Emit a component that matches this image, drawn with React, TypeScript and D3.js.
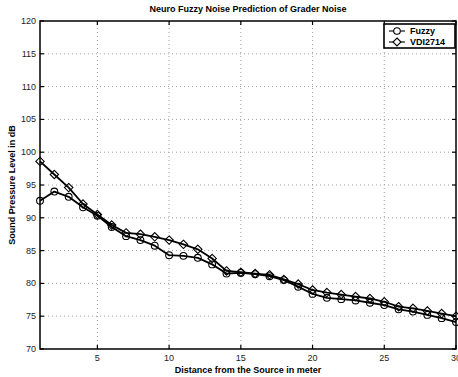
import React from "react";
import * as d3 from "d3";

const distances = [1, 2, 3, 4, 5, 6, 7, 8, 9, 10, 11, 12, 13, 14, 15, 16, 17, 18, 19, 20, 21, 22, 23, 24, 25, 26, 27, 28, 29, 30];
const fuzzy = [92.6, 94.0, 93.2, 91.6, 90.3, 88.6, 87.2, 86.6, 85.75, 84.3, 84.2, 83.9, 82.9, 81.5, 81.6, 81.4, 81.1, 80.5, 79.5, 78.4, 77.8, 77.6, 77.4, 77.05, 76.7, 76.05, 75.7, 75.2, 74.7, 74.1];
const vdi = [98.6, 96.6, 94.6, 92.1, 90.5, 88.9, 87.7, 87.5, 87.1, 86.6, 85.95, 85.2, 83.8, 81.9, 81.7, 81.5, 81.3, 80.6, 79.9, 79.0, 78.6, 78.3, 78.0, 77.7, 77.2, 76.45, 76.2, 75.8, 75.4, 75.0];
const xTicks = [5, 10, 15, 20, 25, 30];
const yTicks = [70, 75, 80, 85, 90, 95, 100, 105, 110, 115, 120];
const seriesNames = ["Fuzzy", "VDI2714"];

const W = 458, H = 377;
const margin = { left: 40, right: 2, top: 21, bottom: 28 };
const font = "'Liberation Sans', Arial, Helvetica, sans-serif";

function diamond(cx: number, cy: number, r: number) {
  return `M${cx},${cy - r}L${cx + r},${cy}L${cx},${cy + r}L${cx - r},${cy}Z`;
}

export default function App() {
  const x = d3.scaleLinear().domain([1, 30]).range([margin.left, W - margin.right]);
  const y = d3.scaleLinear().domain([70, 120]).range([H - margin.bottom, margin.top]);
  const [x0, x1] = x.range();
  const [y0, y1] = y.range();

  const line = d3.line<number>()
    .x((d, i) => x(distances[i]))
    .y(d => y(d));

  const tl = 4;

  return (
    <svg width={W} height={H} style={{ position: "absolute", left: 0, top: 0, background: "#fff" }} fontFamily={font}>
      {/* grid */}
      {xTicks.filter(t => t < 30).map(t => (
        <line key={"gx" + t} x1={x(t)} x2={x(t)} y1={y0} y2={y1} stroke="#888" strokeWidth={0.8} strokeDasharray="1,3" />
      ))}
      {yTicks.filter(t => t > 70 && t < 120).map(t => (
        <line key={"gy" + t} x1={x0} x2={x1} y1={y(t)} y2={y(t)} stroke="#888" strokeWidth={0.8} strokeDasharray="1,3" />
      ))}

      {/* series */}
      <path d={line(vdi) || ""} fill="none" stroke="#000" strokeWidth={1.8} strokeLinejoin="round" />
      <path d={line(fuzzy) || ""} fill="none" stroke="#000" strokeWidth={1.8} strokeLinejoin="round" />
      {fuzzy.map((v, i) => (
        <circle key={"c" + i} cx={x(distances[i])} cy={y(v)} r={3.4} fill="none" stroke="#000" strokeWidth={1.1} />
      ))}
      {vdi.map((v, i) => (
        <path key={"d" + i} d={diamond(x(distances[i]), y(v), 4.2)} fill="none" stroke="#000" strokeWidth={1.1} />
      ))}

      {/* box */}
      <rect x={x0} y={y1} width={x1 - x0} height={y0 - y1} fill="none" stroke="#000" strokeWidth={1.5} />

      {/* ticks */}
      {xTicks.map(t => (
        <g key={"xt" + t}>
          <line x1={x(t)} x2={x(t)} y1={y0} y2={y0 - tl} stroke="#000" strokeWidth={1.2} />
          <line x1={x(t)} x2={x(t)} y1={y1} y2={y1 + tl} stroke="#000" strokeWidth={1.2} />
          <text x={x(t)} y={y0 + 12} fontSize={9} textAnchor="middle" fill="#222">{t}</text>
        </g>
      ))}
      {yTicks.map(t => (
        <g key={"yt" + t}>
          <line x1={x0} x2={x0 + tl} y1={y(t)} y2={y(t)} stroke="#000" strokeWidth={1.2} />
          <line x1={x1} x2={x1 - tl} y1={y(t)} y2={y(t)} stroke="#000" strokeWidth={1.2} />
          <text x={x0 - 4} y={y(t) + 3} fontSize={9} textAnchor="end" fill="#222">{t}</text>
        </g>
      ))}

      {/* labels */}
      <text x={(x0 + x1) / 2} y={12} fontSize={9} fontWeight="bold" textAnchor="middle">Neuro Fuzzy Noise Prediction of Grader Noise</text>
      <text x={(x0 + x1) / 2} y={373} fontSize={9} fontWeight="bold" textAnchor="middle">Distance from the Source in meter</text>
      <text transform={`translate(15,${(y0 + y1) / 2}) rotate(-90)`} fontSize={9} fontWeight="bold" textAnchor="middle">Sound Pressure Level in dB</text>

      {/* legend */}
      <g>
        <rect x={384} y={24} width={71} height={24} fill="#fff" stroke="#000" strokeWidth={1.6} />
        {seriesNames.map((n, i) => {
          const ly = 31 + i * 11;
          return (
            <g key={n}>
              <line x1={389} x2={405} y1={ly} y2={ly} stroke="#000" strokeWidth={1.1} />
              {i === 0
                ? <circle cx={397} cy={ly} r={3.3} fill="#fff" stroke="#000" strokeWidth={1.1} />
                : <path d={diamond(397, ly, 4)} fill="#fff" stroke="#000" strokeWidth={1.1} />}
              <text x={410} y={ly + 3.3} fontSize={9} fontWeight="bold">{n}</text>
            </g>
          );
        })}
      </g>
    </svg>
  );
}
